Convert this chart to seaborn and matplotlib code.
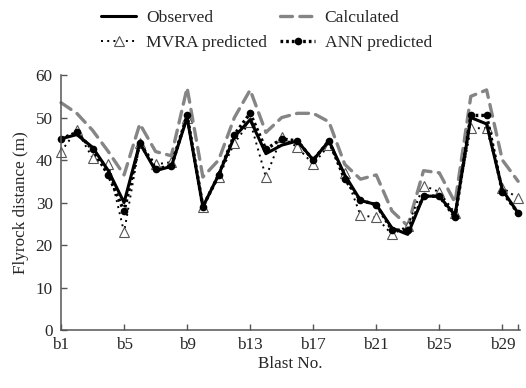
import numpy as np
import pandas as pd
import matplotlib
matplotlib.use("Agg")
import matplotlib.pyplot as plt
import seaborn as sns

# Flyrock distance (m) for blasts b1..b30
blasts = list(range(1, 31))
observed = [45, 46, 43, 37.5, 30, 44, 37.5, 38.5, 50, 29, 36.5, 45.5, 49.5, 41.5, 43.5,
            44.5, 40, 44.5, 36.5, 30.5, 29.5, 24, 22.5, 31.5, 31.5, 27, 50, 48.5, 33, 27.5]
calculated = [53.5, 51, 47, 42, 36.5, 48.5, 42, 41, 57, 36, 40, 50, 56.5, 46.5, 50,
              51, 51, 49, 39, 35.5, 36.5, 28, 24.5, 37.5, 37, 30, 55, 56.5, 40, 35]
mvra = [42, 47, 40.5, 39, 23, 44, 39, 39.5, 50, 29, 36, 44, 49, 36, 45.5,
        43, 39, 43.5, 37, 27, 26.5, 22.5, 24.5, 34, 32.5, 27.5, 47.5, 47.5, 33.5, 31]
ann = [45, 46.5, 42.5, 36.5, 28, 44, 38, 38.5, 50.5, 29, 36.5, 46, 51, 42.5, 45,
       44.5, 40, 44.5, 35.5, 30.5, 29.5, 23.5, 23.5, 31.5, 31.5, 26.5, 50.5, 50.5, 32.5, 27.5]
tick_positions = [1, 5, 9, 13, 17, 21, 25, 29, 30]
tick_labels = ["b1", "b5", "b9", "b13", "b17", "b21", "b25", "b29", ""]

df = pd.DataFrame({"blast": blasts, "Observed": observed, "Calculated": calculated,
                   "MVRA predicted": mvra, "ANN predicted": ann})

sns.set_theme(style="ticks")
plt.rcParams["font.family"] = ["Liberation Serif", "DejaVu Serif"]
plt.rcParams["font.size"] = 12.3

fig = plt.figure(figsize=(5.26, 3.88), dpi=100)
ax = fig.add_axes([0.116, 0.1495, 0.872, 0.657])

sns.lineplot(data=df, x="blast", y="Calculated", ax=ax, color="#858585", lw=2.4,
             label="Calculated", solid_capstyle="round", dash_capstyle="round")
ax.lines[-1].set_linestyle((0, (3.6, 2.2)))
sns.lineplot(data=df, x="blast", y="MVRA predicted", ax=ax, color="black", lw=1.4,
             marker="^", markersize=7.5, markerfacecolor="white", markeredgecolor="#555555",
             markeredgewidth=0.8, label="MVRA predicted")
ax.lines[-1].set_linestyle((0, (1, 2.2)))
sns.lineplot(data=df, x="blast", y="ANN predicted", ax=ax, color="black", lw=2.4,
             marker="o", markersize=5.5, markeredgewidth=0, label="ANN predicted")
ax.lines[-1].set_linestyle((0, (0.8, 0.9)))
sns.lineplot(data=df, x="blast", y="Observed", ax=ax, color="black", lw=2.2,
             label="Observed")

for ln in ax.lines:
    ln.set_clip_on(False)

ax.set_xlim(1, 30.1)
ax.set_ylim(0, 60)
ax.set_yticks(range(0, 61, 10))
ax.set_xticks(tick_positions)
ax.set_xticklabels(tick_labels)
ax.tick_params(direction="in", length=4, width=1, color="#555555", labelsize=12.3)
ax.tick_params(axis="y", pad=6)
ax.tick_params(axis="x", pad=5)
for side in ("top", "right"):
    ax.spines[side].set_visible(False)
for side in ("left", "bottom"):
    ax.spines[side].set_color("#555555")
    ax.spines[side].set_linewidth(1.1)

ax.set_xlabel("Blast No.", fontsize=12.3, labelpad=2)
ax.set_ylabel("Flyrock distance (m)", fontsize=12.3, labelpad=5)

handles, labels = ax.get_legend_handles_labels()
# legend fills column-wise: column 1 = Observed, MVRA; column 2 = Calculated, ANN
order = ["Observed", "MVRA predicted", "Calculated", "ANN predicted"]
hmap = dict(zip(labels, handles))
ax.get_legend().remove()
fig.legend([hmap[k] for k in order], order, loc="upper center",
           bbox_to_anchor=(0.507, 1.015), ncol=2, frameon=False, fontsize=12.6,
           handlelength=2.0, handletextpad=0.55, columnspacing=0.75, labelspacing=0.5)

fig.savefig("out.png", dpi=100)
